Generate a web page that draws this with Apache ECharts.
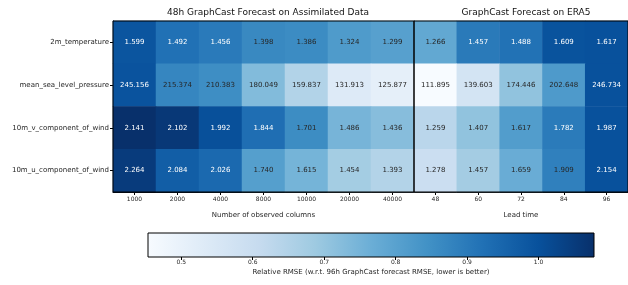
<!DOCTYPE html>
<html>
<head>
<meta charset="UTF-8">
<title>GraphCast RMSE heatmap</title>
<script src="https://cdn.jsdelivr.net/npm/echarts@6/dist/echarts.min.js"></script>
<style>
  html, body { margin: 0; padding: 0; background: #fff; }
  #main { width: 628px; height: 285px; }
</style>
</head>
<body>
<div id="main"></div>
<script>
// variables (rows, top to bottom)
var variables = ['2m_temperature', 'mean_sea_level_pressure', '10m_v_component_of_wind', '10m_u_component_of_wind'];
// left panel: number of observed columns
var obsColumns = ['1000', '2000', '4000', '8000', '10000', '20000', '40000'];
// right panel: lead time (h)
var leadTimes = ['48', '60', '72', '84', '96'];

// RMSE values, one array per variable
var assimT2m = [1.599, 1.492, 1.456, 1.398, 1.386, 1.324, 1.299];
var assimMsl = [245.156, 215.374, 210.383, 180.049, 159.837, 131.913, 125.877];
var assimV10 = [2.141, 2.102, 1.992, 1.844, 1.701, 1.486, 1.436];
var assimU10 = [2.264, 2.084, 2.026, 1.740, 1.615, 1.454, 1.393];

var era5T2m = [1.266, 1.457, 1.488, 1.609, 1.617];
var era5Msl = [111.895, 139.603, 174.446, 202.648, 246.734];
var era5V10 = [1.259, 1.407, 1.617, 1.782, 1.987];
var era5U10 = [1.278, 1.457, 1.659, 1.909, 2.154];

// colorbar ticks
var cbarTicks = [0.5, 0.6, 0.7, 0.8, 0.9, 1.0];

var assimRows = [assimT2m, assimMsl, assimV10, assimU10];
var era5Rows = [era5T2m, era5Msl, era5V10, era5U10];

var blues = ['#f7fbff', '#deebf7', '#c6dbef', '#9ecae1', '#6baed6', '#4292c6', '#2171b5', '#08519c', '#08306b'];

// relative RMSE = value / 96h GraphCast value of same variable
var allRel = [];
function buildCells(rowsArr) {
  var out = [];
  rowsArr.forEach(function (row, r) {
    var ref = era5Rows[r][era5Rows[r].length - 1];
    row.forEach(function (v, c) {
      var rel = v / ref;
      allRel.push(rel);
      out.push({ value: [c, r, rel, v] });
    });
  });
  return out;
}
var assimCells = buildCells(assimRows);
var era5Cells = buildCells(era5Rows);
var vmin = Math.min.apply(null, allRel);
var vmax = Math.max.apply(null, allRel);

// white text on dark cells
function setLabelColors(cells) {
  cells.forEach(function (d) {
    var t = (d.value[2] - vmin) / (vmax - vmin);
    d.label = { color: t > 0.7 ? '#ffffff' : '#262626' };
  });
}
setLabelColors(assimCells);
setLabelColors(era5Cells);

var font = 'DejaVu Sans';
var gridTop = 21, gridH = 171;

var chart = echarts.init(document.getElementById('main'));

function catX(gridIndex, data, name) {
  return {
    type: 'category', gridIndex: gridIndex, data: data, position: 'bottom',
    axisLine: { show: true, lineStyle: { color: '#000', width: 1 } },
    axisTick: { show: true, alignWithLabel: true, length: 3, lineStyle: { color: '#000' } },
    axisLabel: { fontFamily: font, fontSize: 6, color: '#262626', margin: 4 },
    splitLine: { show: false },
    name: name, nameLocation: 'middle', nameGap: 20,
    nameTextStyle: { fontFamily: font, fontSize: 7, color: '#262626' }
  };
}

var option = {
  animation: false,
  backgroundColor: '#fff',
  textStyle: { fontFamily: font },
  title: [
    { text: '48h GraphCast Forecast on Assimilated Data', left: 263, top: 3, textAlign: 'center',
      textStyle: { fontFamily: font, fontSize: 9, fontWeight: 'normal', color: '#111' } },
    { text: 'GraphCast Forecast on ERA5', left: 521, top: 3, textAlign: 'center',
      textStyle: { fontFamily: font, fontSize: 9, fontWeight: 'normal', color: '#111' } }
  ],
  grid: [
    { left: 113, top: gridTop, width: 301, height: gridH, show: true, z: 10,
      backgroundColor: 'transparent', borderColor: '#000', borderWidth: 1 },
    { left: 414, top: gridTop, width: 216, height: gridH, show: true, z: 10,
      backgroundColor: 'transparent', borderColor: '#000', borderWidth: 1 },
    { left: 148, top: 233, width: 446, height: 24, show: true, z: 10,
      backgroundColor: 'transparent', borderColor: '#000', borderWidth: 1 }
  ],
  xAxis: [
    catX(0, obsColumns, 'Number of observed columns'),
    catX(1, leadTimes, 'Lead time'),
    {
      type: 'value', gridIndex: 2, min: vmin, max: vmax,
      axisLine: { show: false },
      axisTick: { show: true, length: 3, lineStyle: { color: '#000' }, customValues: cbarTicks },
      axisLabel: { fontFamily: font, fontSize: 6, color: '#262626', margin: 2, customValues: cbarTicks,
        formatter: function (v) { return v.toFixed(1); } },
      splitLine: { show: false },
      name: 'Relative RMSE (w.r.t. 96h GraphCast forecast RMSE, lower is better)',
      nameLocation: 'middle', nameGap: 12,
      nameTextStyle: { fontFamily: font, fontSize: 7, color: '#262626' }
    }
  ],
  yAxis: [
    {
      type: 'category', gridIndex: 0, data: variables, inverse: true,
      axisLine: { show: true, lineStyle: { color: '#000' } },
      axisTick: { show: true, alignWithLabel: true, length: 3, lineStyle: { color: '#000' } },
      axisLabel: { fontFamily: font, fontSize: 7, color: '#262626', margin: 4 },
      splitLine: { show: false }
    },
    {
      type: 'category', gridIndex: 1, data: variables, inverse: true,
      axisLine: { show: true, lineStyle: { color: '#000', width: 1.2 } },
      axisTick: { show: false }, axisLabel: { show: false }, splitLine: { show: false }
    },
    {
      type: 'value', gridIndex: 2, min: 0, max: 1, show: false
    }
  ],
  visualMap: {
    show: false, type: 'continuous', dimension: 2, min: vmin, max: vmax,
    seriesIndex: [0, 1], inRange: { color: blues }
  },
  series: [
    {
      type: 'heatmap', xAxisIndex: 0, yAxisIndex: 0, data: assimCells,
      label: { show: true, fontFamily: font, fontSize: 7,
        formatter: function (p) { return p.value[3].toFixed(3); } },
      emphasis: { disabled: true }
    },
    {
      type: 'heatmap', xAxisIndex: 1, yAxisIndex: 1, data: era5Cells,
      label: { show: true, fontFamily: font, fontSize: 7,
        formatter: function (p) { return p.value[3].toFixed(3); } },
      emphasis: { disabled: true }
    },
    {
      // colorbar gradient
      type: 'custom', xAxisIndex: 2, yAxisIndex: 2, data: [[vmin, 0]],
      renderItem: function (params, api) {
        var cs = params.coordSys;
        var stops = blues.map(function (c, i) { return { offset: i / (blues.length - 1), color: c }; });
        return {
          type: 'rect',
          shape: { x: cs.x, y: cs.y, width: cs.width, height: cs.height },
          style: { fill: new echarts.graphic.LinearGradient(0, 0, 1, 0, stops) }
        };
      }
    }
  ]
};

chart.setOption(option);
</script>
</body>
</html>
